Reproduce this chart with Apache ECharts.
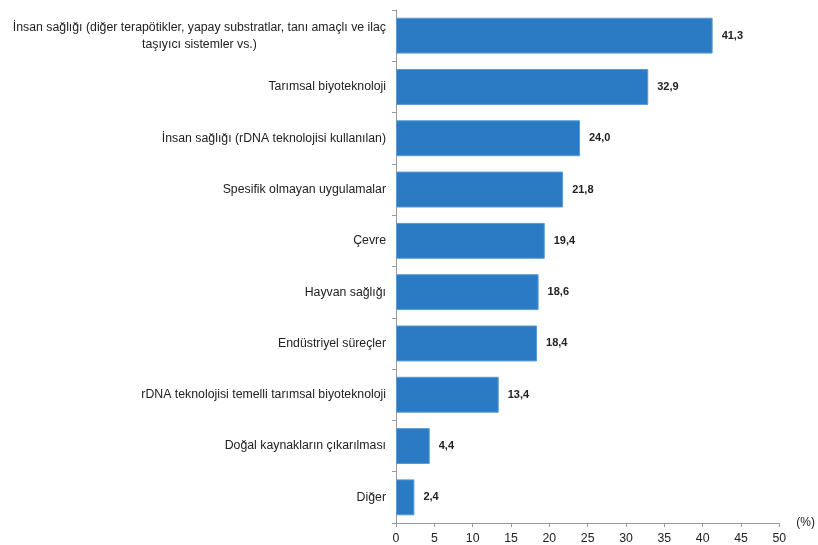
<!DOCTYPE html>
<html>
<head>
<meta charset="utf-8">
<script src="https://cdn.jsdelivr.net/npm/echarts@6/dist/echarts.min.js"></script>
<style>
  html, body { margin: 0; padding: 0; background: #ffffff; }
  #chart { width: 818px; height: 545px; }
</style>
</head>
<body>
<div id="chart"></div>
<script>
// Biotechnology application areas, share of firms (%)
const categories = [
  'İnsan sağlığı (diğer terapötikler, yapay substratlar, tanı amaçlı ve ilaç\ntaşıyıcı sistemler vs.)',
  'Tarımsal biyoteknoloji',
  'İnsan sağlığı (rDNA teknolojisi kullanılan)',
  'Spesifik olmayan uygulamalar',
  'Çevre',
  'Hayvan sağlığı',
  'Endüstriyel süreçler',
  'rDNA teknolojisi temelli tarımsal biyoteknoloji',
  'Doğal kaynakların çıkarılması',
  'Diğer'
];
const values = [41.3, 32.9, 24.0, 21.8, 19.4, 18.6, 18.4, 13.4, 4.4, 2.4];
const xTicks = [0, 5, 10, 15, 20, 25, 30, 35, 40, 45, 50];

const fmt = v => v.toFixed(1).replace('.', ',');
const FONT = '"Liberation Sans", Arial, sans-serif';
const CAT_SIZE = 12.3;

const chart = echarts.init(document.getElementById('chart'), null, { renderer: 'canvas' });
chart.setOption({
  animation: false,
  backgroundColor: '#ffffff',
  grid: { left: 396, right: 36, top: 10, bottom: 20, containLabel: false },
  xAxis: {
    type: 'value',
    min: xTicks[0],
    max: xTicks[xTicks.length - 1],
    interval: xTicks[1] - xTicks[0],
    name: '(%)',
    nameLocation: 'end',
    nameGap: 17,
    nameTextStyle: { fontFamily: FONT, fontSize: 12, color: '#222', padding: [0, 0, 6, 0] },
    axisLine: { show: true, lineStyle: { color: '#9a9a9a', width: 1 } },
    axisTick: { show: true, length: 4, lineStyle: { color: '#9a9a9a' } },
    axisLabel: { fontFamily: FONT, fontSize: 12.3, color: '#222', margin: 10 },
    splitLine: { show: false }
  },
  yAxis: {
    type: 'category',
    inverse: true,
    data: categories,
    axisLine: { show: true, lineStyle: { color: '#9a9a9a', width: 1 } },
    axisTick: { show: true, length: 4, lineStyle: { color: '#9a9a9a' } },
    axisLabel: {
      fontFamily: FONT,
      fontSize: CAT_SIZE,
      color: '#222',
      margin: 10,
      lineHeight: 17,
      formatter: v => v.split('\n').map(l => '{c|' + l + '}').join('\n'),
      rich: { c: { align: 'center', fontFamily: FONT, fontSize: CAT_SIZE, color: '#222', lineHeight: 17 } }
    }
  },
  series: [{
    type: 'bar',
    data: values,
    barCategoryGap: '30%',
    itemStyle: { color: '#2a7bc4', borderColor: '#5b9bd5', borderWidth: 1 },
    label: {
      show: true,
      position: 'right',
      distance: 9,
      formatter: p => fmt(p.value),
      fontFamily: FONT,
      fontSize: 11,
      fontWeight: 'bold',
      color: '#222'
    }
  }]
});
</script>
</body>
</html>
